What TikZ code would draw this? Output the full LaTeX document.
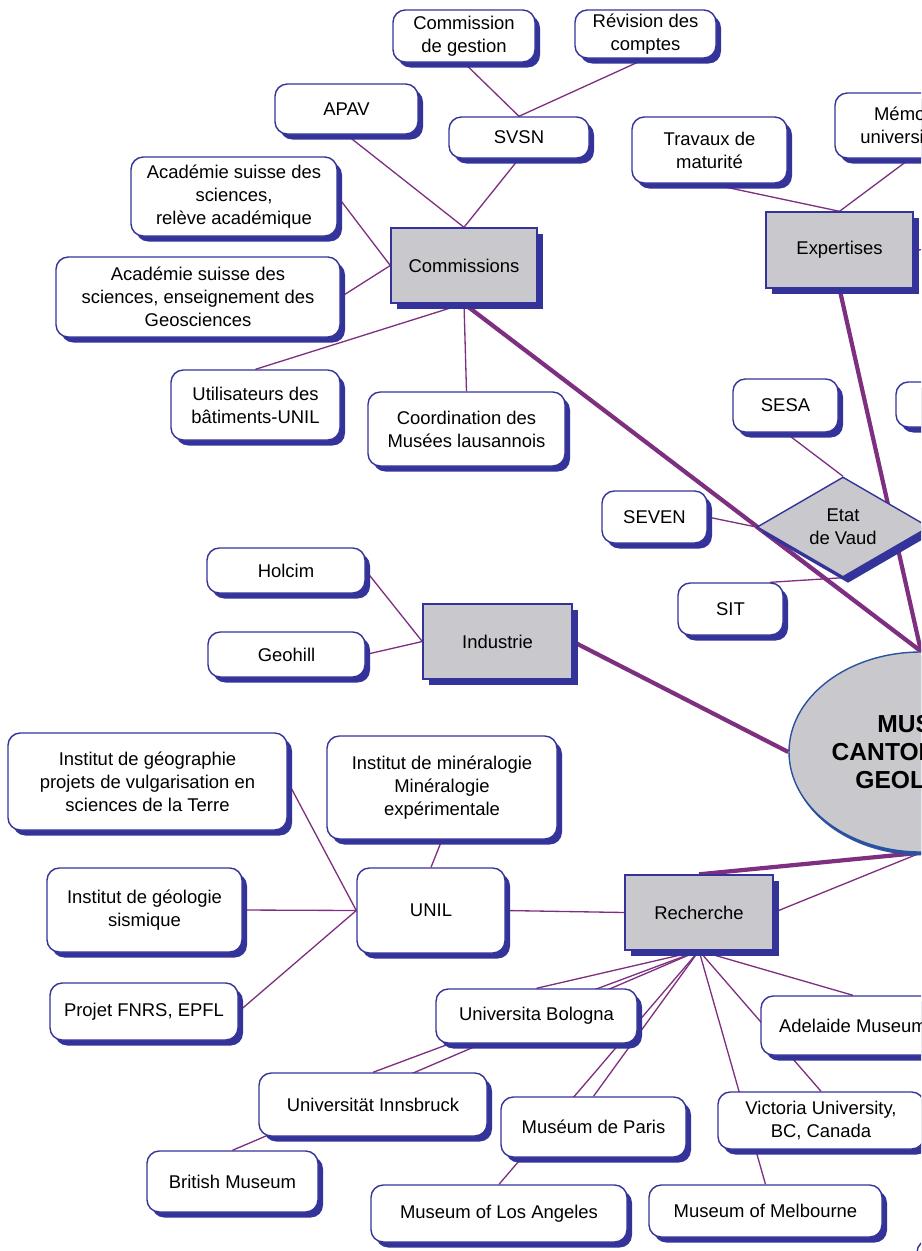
\documentclass[tikz,border=0pt]{standalone}
\usepackage{fontspec}
\setmainfont{Liberation Sans}
\usetikzlibrary{shapes.geometric,shadows,backgrounds}
\definecolor{frame}{HTML}{333399}
\definecolor{link}{HTML}{7F2F80}
\definecolor{boxgray}{HTML}{C8C8CD}
\definecolor{ovalblue}{HTML}{2A52A0}

\begin{document}
\begin{tikzpicture}[x=0.02cm,y=-0.02cm,font=\fontsize{10.5}{13}\selectfont,
  sz/.style 2 args={minimum width=#1*0.02cm,minimum height=#2*0.02cm},
  item/.style={draw=frame,line width=0.8pt,fill=white,rounded corners=7pt,align=center,inner sep=0pt,
    drop shadow={shadow xshift=0.1cm,shadow yshift=-0.11cm,fill=frame,opacity=1}},
  group/.style={draw=frame,line width=0.8pt,fill=boxgray,align=center,inner sep=0pt,
    drop shadow={shadow xshift=0.11cm,shadow yshift=-0.12cm,fill=frame,opacity=1}},
  ln/.style={link,line width=0.75pt},
  main/.style={link,line width=2.4pt}]
\useasboundingbox (0,0) rectangle (921,1251);
\clip (0,0) rectangle (921,1251);

% commissions
\node[item,sz={142}{52}] (comgest) at (464,36) {Commission\\de gestion};
\node[item,sz={141}{48}] (revision) at (645.5,34) {Révision des\\comptes};
\node[item,sz={140}{41}] (svsn) at (519,137.5) {SVSN};
\node[item,sz={143}{50}] (apav) at (346.5,109) {APAV};
\node[item,sz={206}{79}] (acad1) at (234,196.5) {Académie suisse des\\sciences,\\relève académique};
\node[item,sz={284}{80}] (acad2) at (198,297) {Académie suisse des\\sciences, enseignement des\\Geosciences};
\node[item,sz={169}{70}] (util) at (255.5,405) {Utilisateurs des\\bâtiments-UNIL};
\node[item,sz={197}{74}] (coord) at (466.5,429) {Coordination des\\Musées lausannois};
\node[group,sz={146}{75}] (commissions) at (464,265.5) {Commissions};

% expertises
\node[item,sz={155}{66}] (travaux) at (709.5,150) {Travaux de\\maturité};
\node[item,sz={150}{65}] (memo) at (910,125.5) {Mémoire\\universitaire};
\node[group,sz={147}{76}] (expertises) at (839.5,250) {Expertises};
\coordinate (expright) at (990,248);

% etat
\node[item,sz={105}{53}] (sesa) at (785.5,405.5) {SESA};
\node[item,sz={108}{45}] (rightbox) at (950,404.5) {};
\node[item,sz={105}{52}] (seven) at (654.5,517) {SEVEN};
\node[item,sz={105}{52}] (sit) at (730.5,609) {SIT};
\node[draw=frame,line width=0.8pt,fill=boxgray,diamond,aspect=1.72,inner sep=0pt,align=center,sz={172}{100},
  drop shadow={shadow xshift=0.1cm,shadow yshift=-0.12cm,fill=frame,opacity=1}] (etat) at (843,527) {Etat\\de Vaud};

% industrie
\node[item,sz={158}{45}] (holcim) at (286,570.5) {Holcim};
\node[item,sz={157}{45}] (geohill) at (286.5,654.5) {Geohill};
\node[group,sz={149}{75}] (industrie) at (497.5,641.5) {Industrie};

\node[draw=ovalblue,line width=0.8pt,fill=boxgray,ellipse,align=center,inner sep=0pt,sz={264}{200},
  font=\fontsize{14}{16}\selectfont\bfseries,
  drop shadow={shadow xshift=0.03cm,shadow yshift=-0.07cm,fill=ovalblue,opacity=1}] (museum) at (921,752)
  {MUSEE\\CANTONAL DE\\GEOLOGIE};

% recherche
\node[item,sz={279}{97}] (instgeo) at (147.5,781.5) {Institut de géographie\\projets de vulgarisation en\\sciences de la Terre};
\node[item,sz={230}{103}] (instmin) at (442,787.5) {Institut de minéralogie\\Minéralogie\\expérimentale};
\node[item,sz={195}{84}] (instgeol) at (144.5,910) {Institut de géologie\\sismique};
\node[item,sz={188}{57}] (fnrs) at (144,1011.5) {Projet FNRS, EPFL};
\node[item,sz={148}{85}] (unil) at (431,910.5) {UNIL};
\node[group,sz={148}{75}] (recherche) at (699,912.5) {Recherche};
\node[item,sz={201}{54}] (bologna) at (536.5,1016) {Universita Bologna};
\node[item,sz={184}{59}] (adelaide) at (853,1025.5) {Adelaide Museum};
\node[item,sz={228}{63}] (innsbruck) at (373,1104.5) {Universität Innsbruck};
\node[item,sz={185}{60}] (paris) at (593.5,1127) {Muséum de Paris};
\node[item,sz={206}{57}] (victoria) at (821,1120.5) {Victoria University,\\BC, Canada};
\node[item,sz={171}{61}] (british) at (232.5,1181.5) {British Museum};
\node[item,sz={256}{57}] (losangeles) at (499,1213.5) {Museum of Los Angeles};
\node[item,sz={233}{52}] (melbourne) at (765.5,1211) {Museum of Melbourne};
\node[item,sz={146}{60}] (cornerbox) at (990,1270) {};

\begin{pgfonlayer}{background}
\clip (0,0) rectangle (921,1251);
\draw[ln] (comgest.south) -- (svsn.north);
\draw[ln] (revision.south) -- (svsn.north);
\draw[ln] (svsn.south) -- (commissions.north);
\draw[ln] (apav.south) -- (commissions.north);
\draw[ln] (acad1.east) -- (commissions.west);
\draw[ln] (acad2.east) -- (commissions.west);
\draw[ln] (util.north) -- (commissions.south);
\draw[ln] (coord.north) -- (commissions.south);
\draw[ln] (travaux.south) -- (expertises.north);
\draw[ln] (memo.south) -- (expertises.north);
\draw[ln] (expertises.east) -- (expright);
\draw[ln] (sesa.south) -- (etat.north);
\draw[ln] (seven.east) -- (etat.west);
\draw[ln] (sit.34) -- (etat.south);
\draw[ln] (holcim.east) -- (industrie.west);
\draw[ln] (geohill.east) -- (industrie.west);
\draw[ln] (instgeo.east) -- (unil.west);
\draw[ln] (instgeol.east) -- (unil.west);
\draw[ln] (fnrs.east) -- (unil.west);
\draw[ln] (instmin.south) -- (unil.north);
\draw[ln] (unil.east) -- (recherche.west);
\foreach \n in {bologna,innsbruck,british,paris,losangeles,melbourne,victoria,adelaide}
  \draw[ln] (recherche.south) -- (\n.north);
\draw[ln] (recherche.east) -- (museum.south);
\draw[main] (commissions.south) -- (museum.north);
\draw[main] (expertises.south) -- (museum.north);
\draw[main,line width=1.8pt] (etat.west) -- (museum.north);
\draw[main] (industrie.east) -- (museum.west);
\draw[main] (recherche.north) -- (museum.south);
\end{pgfonlayer}
\end{tikzpicture}
\end{document}
